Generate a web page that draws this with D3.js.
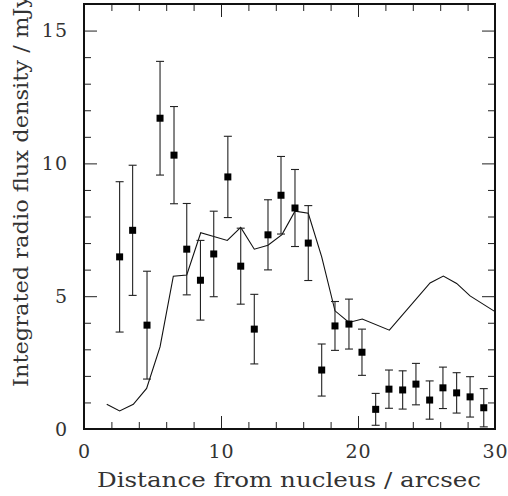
<!DOCTYPE html>
<html>
<head>
	<script src="https://cdn.jsdelivr.net/npm/d3@7"></script>
	<style>
		body { margin: 0; background: white; }
		text { font-family: "DejaVu Serif", serif; fill: #333; }
	</style>
</head>
<body>
	<script>

		var width  = 508;
		var height = 496;

		var margin = { top: 4, right: 13, bottom: 67, left: 84 };

		// measured points with symmetric error bars
		var distance = [2.6, 3.55, 4.6, 5.55, 6.57, 7.5, 8.5, 9.47, 10.5, 11.44,
		                12.43, 13.43, 14.38, 15.4, 16.37, 17.35, 18.32, 19.34, 20.29, 21.29,
		                22.26, 23.26, 24.23, 25.23, 26.2, 27.2, 28.18, 29.18];
		var flux     = [6.48, 7.48, 3.91, 11.7, 10.31, 6.77, 5.6, 6.59, 9.49, 6.13,
		                3.76, 7.31, 8.8, 8.32, 7.0, 2.22, 3.88, 3.95, 2.89, 0.74,
		                1.5, 1.47, 1.69, 1.09, 1.55, 1.36, 1.21, 0.8];
		var fluxErr  = [2.83, 2.45, 2.03, 2.14, 1.83, 1.72, 1.5, 1.61, 1.53, 1.43,
		                1.31, 1.32, 1.46, 1.45, 1.41, 0.98, 0.92, 0.94, 0.87, 0.6,
		                0.72, 0.72, 0.78, 0.72, 0.78, 0.76, 0.76, 0.72];

		// model curve
		var modelX = [1.66, 2.6, 3.6, 4.57, 5.55, 6.52, 7.5, 8.52, 10.46, 11.44,
		              12.43, 13.43, 14.45, 15.4, 16.37, 17.35, 18.32, 19.34, 20.31, 22.29,
		              25.26, 26.23, 27.2, 28.18, 30];
		var modelY = [0.93, 0.68, 0.93, 1.53, 3.09, 5.75, 5.8, 7.39, 7.1, 7.59,
		              6.77, 6.92, 7.32, 8.2, 8.12, 6.48, 4.45, 4.01, 4.14, 3.72,
		              5.5, 5.76, 5.48, 5.01, 4.42];

		var xMajor = [0, 10, 20, 30];
		var yMajor = [0, 5, 10, 15];

		var svg = d3.select('body').append('svg')
			.attr('width', width)
			.attr('height', height);

		var w = width - margin.left - margin.right;
		var h = height - margin.top - margin.bottom;

		var x = d3.scaleLinear().domain([0, 30]).range([0, w]);
		var y = d3.scaleLinear().domain([0, 16]).range([h, 0]);

		var g = svg.append('g')
			.attr('transform', 'translate(' + margin.left + ',' + margin.top + ')');

		/* ---------- axes: ticks pointing inward on all four sides ---------- */

		var xMinor = d3.range(0, 31, 2).filter(function(d) { return d % 10 != 0; });
		var yMinor = d3.range(0, 17, 1).filter(function(d) { return d % 5 != 0; });

		function drawAxis(axisFn, scale, major, minor, tr, labels) {
			var big = g.append('g').attr('transform', tr)
				.call(axisFn(scale).tickValues(major).tickSize(-13).tickPadding(labels ? 16 : 0)
					.tickFormat(labels ? d3.format('d') : ''));
			var small = g.append('g').attr('transform', tr)
				.call(axisFn(scale).tickValues(minor).tickSize(-7).tickFormat(''));
			[big, small].forEach(function(a) {
				a.select('.domain').remove();
				a.selectAll('line').attr('stroke', '#222').attr('stroke-width', 1);
			});
			return big;
		}

		var bottom = drawAxis(d3.axisBottom, x, xMajor, xMinor, 'translate(0,' + h + ')', true);
		bottom.selectAll('text').attr('font-size', 19).attr('dy', '0.66em')
			.attr('letter-spacing', 1);

		var left = drawAxis(d3.axisLeft, y, yMajor, yMinor, null, true);
		left.selectAll('text').attr('font-size', 19).attr('letter-spacing', 1);

		drawAxis(d3.axisTop, x, xMajor, xMinor, null, false);
		drawAxis(d3.axisRight, y, yMajor, yMinor, 'translate(' + w + ',0)', false);

		// frame
		g.append('rect')
			.attr('width', w)
			.attr('height', h)
			.attr('fill', 'none')
			.attr('stroke', '#111')
			.attr('stroke-width', 2);

		/* ---------- model line ---------- */

		var model = modelX.map(function(d, i) { return [d, modelY[i]]; });

		g.append('path')
			.datum(model)
			.attr('fill', 'none')
			.attr('stroke', '#111')
			.attr('stroke-width', 1.1)
			.attr('d', d3.line()
				.x(function(d) { return x(d[0]); })
				.y(function(d) { return y(d[1]); }));

		/* ---------- error bars and points ---------- */

		var pts = distance.map(function(d, i) {
			return { x: d, y: flux[i], e: fluxErr[i] };
		});

		var cap = 4;
		var bars = g.append('g').attr('stroke', '#222').attr('stroke-width', 1.1);

		bars.selectAll('.err').data(pts).enter().append('line')
			.attr('x1', function(d) { return x(d.x); })
			.attr('x2', function(d) { return x(d.x); })
			.attr('y1', function(d) { return y(d.y - d.e); })
			.attr('y2', function(d) { return y(d.y + d.e); });

		[-1, 1].forEach(function(s) {
			bars.selectAll('.cap' + s).data(pts).enter().append('line')
				.attr('x1', function(d) { return x(d.x) - cap; })
				.attr('x2', function(d) { return x(d.x) + cap; })
				.attr('y1', function(d) { return y(d.y + s * d.e); })
				.attr('y2', function(d) { return y(d.y + s * d.e); });
		});

		var sq = 7;
		g.selectAll('.pt').data(pts).enter().append('rect')
			.attr('x', function(d) { return x(d.x) - sq / 2; })
			.attr('y', function(d) { return y(d.y) - sq / 2; })
			.attr('width', sq)
			.attr('height', sq)
			.attr('fill', 'black');

		/* ---------- axis titles ---------- */

		svg.append('text')
			.attr('x', 97)
			.attr('y', 487)
			.attr('font-size', 20)
			.attr('textLength', 384)
			.attr('lengthAdjust', 'spacingAndGlyphs')
			.text('Distance from nucleus / arcsec');

		// the reference crops the end of this title at the top edge too
		svg.append('text')
			.attr('transform', 'translate(28,387) rotate(-90)')
			.attr('font-size', 20)
			.attr('textLength', 392)
			.attr('lengthAdjust', 'spacingAndGlyphs')
			.text('Integrated radio flux density / mJy');

	</script>
</body>
</html>
